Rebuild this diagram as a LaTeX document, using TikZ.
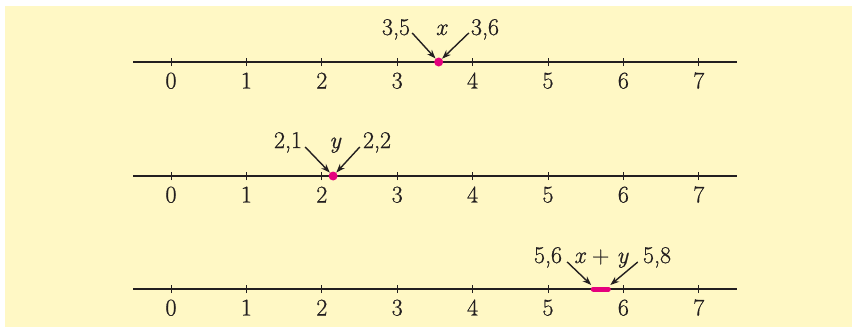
\documentclass[tikz,border=0pt]{standalone}
\usepackage{fontspec}
\setmainfont{Latin Modern Roman}
\usetikzlibrary{arrows.meta}
\definecolor{bg}{HTML}{FFF8C5}
\definecolor{mag}{HTML}{E5007D}
\definecolor{ink}{HTML}{231F20}
\newcommand{\vr}[1]{{\itshape\addfontfeatures{FakeBold=0.7}#1}}
\begin{document}
\begin{tikzpicture}[x=1pt,y=-1pt,
  font={\fontsize{24}{28}\selectfont\addfontfeatures{FakeBold=0.7}},
  axis/.style={line width=2.2pt, draw=ink},
  tickmark/.style={line width=0.8pt, draw=ink},
  lbl/.style={anchor=base, inner sep=0pt, text=ink},
  arr/.style={line width=1.4pt, draw=ink, -{Stealth[length=9pt,width=6.5pt]}},
  dotnode/.style={circle, fill=mag, inner sep=0pt, minimum size=9pt}]
\useasboundingbox (0,0) rectangle (852,327);
\fill[bg] (5,6) rectangle (852,327);
\foreach \r/\yy in {a/62, b/176, c/289} {
  \coordinate (\r L) at (133,\yy);
  \coordinate (\r R) at (737,\yy);
  \draw[axis] (\r L) -- (\r R);
  \foreach \k in {0,...,7} {
    \coordinate (\r t\k) at ({171+75.4*\k},\yy);
    \draw[tickmark] ([yshift=-4pt]\r t\k) -- ([yshift=4pt]\r t\k);
    \node[lbl] (\r n\k) at ({171+75.4*\k},{\yy+26.5}) {\k};
  }
}
% row 1
\node[dotnode] (adot) at ({171+75.4*3.55},62) {};
\node[lbl] (a35) at (396,35) {3,5};
\node[lbl] (ax) at (441,35) {\vr{x}};
\node[lbl] (a36) at (485,35) {3,6};
\draw[arr] ([shift={(2,-2)}]a35.base east) -- (adot);
\draw[arr] ([shift={(-2,-2)}]a36.base west) -- (adot);
% row 2
\node[dotnode] (bdot) at ({171+75.4*2.15},176) {};
\node[lbl] (b21) at (288,148) {2,1};
\node[lbl] (by) at (335,148) {\vr{y}};
\node[lbl] (b22) at (377,148) {2,2};
\draw[arr] ([shift={(3,-1)}]b21.base east) -- (bdot);
\draw[arr] ([shift={(-3,-1)}]b22.base west) -- (bdot);
% row 3
\coordinate (cs) at ({171+75.4*5.6},289);
\coordinate (ce) at ({171+75.4*5.8},289);
\draw[mag, line width=5pt, line cap=round] (cs) -- (ce);
\node[lbl] (c56) at (548,263) {5,6};
\node[lbl] (cxy) at (601,263) {\vr{x}\ +\ \vr{y}};
\node[lbl] (c58) at (657,263) {5,8};
\draw[arr] ([shift={(5,-1)}]c56.base east) -- ([shift={(-2,-4)}]cs);
\draw[arr] ([shift={(-5,-1)}]c58.base west) -- ([shift={(2,-4)}]ce);
\end{tikzpicture}
\end{document}
